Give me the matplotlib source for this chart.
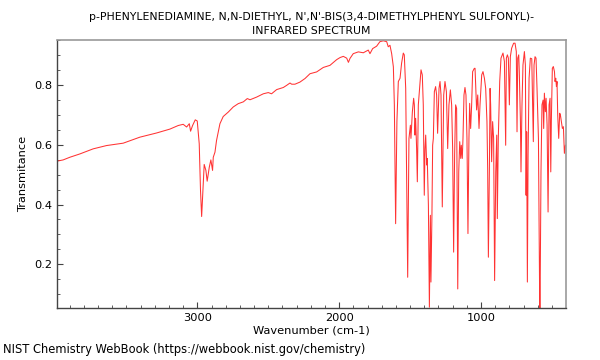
import matplotlib
matplotlib.use('Agg')
import matplotlib.pyplot as plt
from matplotlib.ticker import MultipleLocator

# IR spectrum (wavenumber in cm-1, transmittance)
wavenumber = [
    3989, 3947, 3899, 3829, 3735, 3641, 3523, 3406, 3288, 3194, 3135, 3100,
    3076, 3057, 3048, 3034, 3015, 3001, 2987, 2978, 2970, 2959, 2952, 2940,
    2931, 2916, 2905, 2893, 2888, 2876, 2865, 2841, 2818, 2782, 2747, 2712,
    2676, 2648, 2629, 2582, 2535, 2500, 2477, 2441, 2394, 2371, 2347, 2335,
    2312, 2277, 2241, 2206, 2159, 2112, 2065, 2018, 1994, 1971, 1947, 1935,
    1924, 1901, 1865, 1830, 1795, 1783, 1764, 1736, 1713, 1689, 1665, 1654,
    1642, 1630, 1618,
    1611, 1602, 1593, 1583, 1571, 1560, 1548, 1541, 1531, 1517, 1508, 1498,
    1494, 1484, 1475, 1470, 1466, 1461, 1454, 1449, 1442, 1433, 1423, 1414,
    1407, 1400, 1395, 1390, 1383, 1379, 1371, 1364, 1357, 1353, 1346, 1341,
    1336, 1329, 1320, 1313, 1306, 1296, 1289, 1282, 1273, 1263, 1254, 1244,
    1235, 1226, 1216, 1207, 1200, 1193, 1186, 1179, 1172, 1164, 1157, 1150,
    1143, 1139, 1132, 1127, 1120, 1113, 1106, 1099, 1092, 1085, 1080, 1073,
    1066, 1059, 1047,
    1042, 1031, 1023, 1014, 1007, 995, 986, 976, 967, 958, 953, 948,
    941, 936, 932, 925, 918, 911, 904, 896, 889, 885, 878, 868,
    859, 845, 835, 831, 826, 821, 814, 807, 800, 793, 784, 770,
    760, 751, 746, 741, 734, 730, 722, 718, 711, 704, 694, 687,
    682, 678, 673, 668, 661, 652, 642, 638, 631, 626, 619, 612,
    605, 595, 586, 584, 577, 570, 562, 558, 553, 546, 541, 534,
    527, 520, 513, 508, 504, 497, 490, 482, 478, 473, 468, 464,
    459, 452, 445, 440, 433, 426, 419, 412, 405,
]
transmittance = [
    0.545, 0.549, 0.558, 0.569, 0.586, 0.597, 0.605, 0.625, 0.639, 0.652, 0.664, 0.668,
    0.659, 0.670, 0.645, 0.664, 0.683, 0.679, 0.603, 0.447, 0.360, 0.469, 0.534, 0.514,
    0.478, 0.525, 0.549, 0.514, 0.558, 0.575, 0.614, 0.670, 0.694, 0.709, 0.726, 0.737,
    0.743, 0.754, 0.750, 0.759, 0.770, 0.774, 0.770, 0.784, 0.791, 0.798, 0.806, 0.802,
    0.802, 0.809, 0.821, 0.837, 0.843, 0.858, 0.865, 0.884, 0.891, 0.895, 0.889, 0.875,
    0.888, 0.904, 0.910, 0.907, 0.916, 0.904, 0.921, 0.929, 0.944, 0.947, 0.944, 0.927,
    0.932, 0.904, 0.860,
    0.732, 0.336, 0.677, 0.811, 0.822, 0.872, 0.906, 0.900, 0.788, 0.157, 0.621, 0.665,
    0.621, 0.710, 0.755, 0.733, 0.632, 0.688, 0.587, 0.476, 0.733, 0.788, 0.850, 0.833,
    0.733, 0.431, 0.587, 0.632, 0.532, 0.554, 0.398, 0.057, 0.364, 0.141, 0.364, 0.598,
    0.621, 0.777, 0.794, 0.766, 0.638, 0.788, 0.811, 0.766, 0.392, 0.766, 0.811, 0.777,
    0.587, 0.733, 0.783, 0.733, 0.587, 0.241, 0.565, 0.733, 0.721, 0.118, 0.509, 0.610,
    0.554, 0.598, 0.554, 0.621, 0.766, 0.791, 0.766, 0.621, 0.303, 0.621, 0.738, 0.654,
    0.733, 0.844, 0.855,
    0.855, 0.716, 0.766, 0.654, 0.733, 0.833, 0.844, 0.822, 0.788, 0.677, 0.520, 0.224,
    0.509, 0.788, 0.733, 0.543, 0.677, 0.621, 0.146, 0.509, 0.632, 0.353, 0.621, 0.811,
    0.889, 0.906, 0.878, 0.744, 0.598, 0.889, 0.900, 0.889, 0.733, 0.894, 0.922, 0.939,
    0.939, 0.911, 0.643, 0.889, 0.900, 0.844, 0.677, 0.509, 0.733, 0.866, 0.911, 0.866,
    0.431, 0.643, 0.141, 0.565, 0.822, 0.889, 0.887, 0.788, 0.610, 0.866, 0.894, 0.889,
    0.788, 0.621, 0.062, 0.030, 0.509, 0.733, 0.749, 0.654, 0.772, 0.710, 0.755, 0.666,
    0.375, 0.733, 0.755, 0.509, 0.677, 0.855, 0.861, 0.844, 0.811, 0.822, 0.794, 0.811,
    0.699, 0.621, 0.705, 0.699, 0.677, 0.654, 0.660, 0.571, 0.598,
]

title = "p-PHENYLENEDIAMINE, N,N-DIETHYL, N',N'-BIS(3,4-DIMETHYLPHENYL SULFONYL)-\nINFRARED SPECTRUM"

fig = plt.figure(figsize=(6, 3.6), dpi=100)
ax = fig.add_axes([0.095, 0.145, 0.848, 0.745])

ax.plot(wavenumber, transmittance, color='#ff3333', lw=0.75)

ax.set_xlim(3990, 402)
ax.set_ylim(0.055, 0.951)
ax.xaxis.set_major_locator(MultipleLocator(1000))
ax.xaxis.set_minor_locator(MultipleLocator(100))
ax.yaxis.set_major_locator(MultipleLocator(0.2))
ax.yaxis.set_minor_locator(MultipleLocator(0.05))
ax.tick_params(which='both', direction='in', top=False, right=False, labelsize=8.2,
               color='#444444')
ax.tick_params(which='major', length=4.5)
ax.tick_params(which='minor', length=2.5)
for side in ['left', 'bottom']:
    ax.spines[side].set_color('#444444')
    ax.spines[side].set_linewidth(1.0)
for side in ['top', 'right']:
    ax.spines[side].set_color('#999999')
    ax.spines[side].set_linewidth(1.2)

ax.set_xlabel('Wavenumber (cm-1)', fontsize=8.2, labelpad=2)
ax.set_ylabel('Transmitance', fontsize=8.2)
ax.set_title(title, fontsize=7.8, linespacing=1.55, pad=4)

fig.text(0.005, 0.02, 'NIST Chemistry WebBook (https://webbook.nist.gov/chemistry)', fontsize=8.3)

fig.savefig('out.png', dpi=100)
